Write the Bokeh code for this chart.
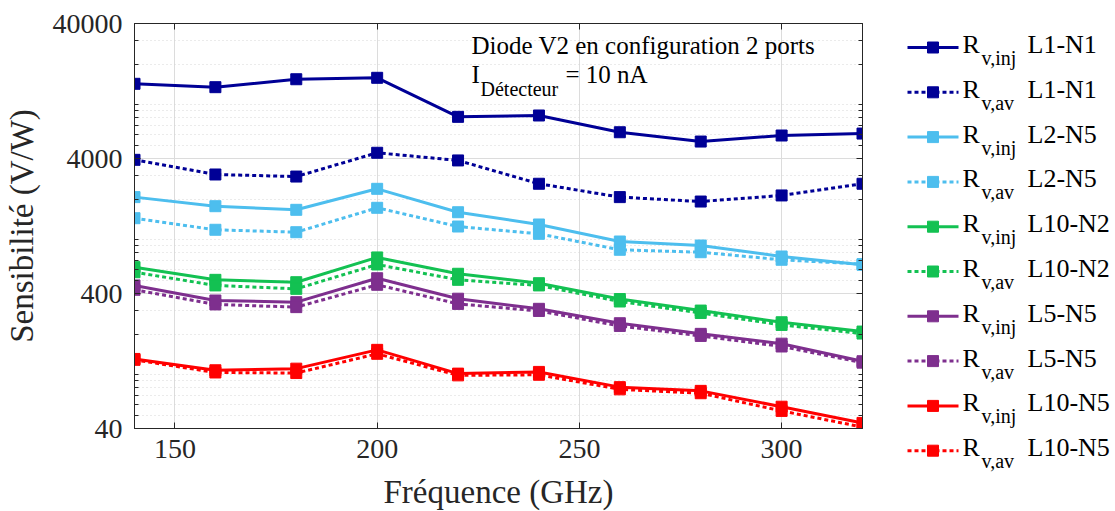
from bokeh.plotting import figure
from bokeh.models import (FixedTicker, LinearAxis, LogAxis, Label, ColumnDataSource,
                          PrintfTickFormatter, CustomJSTickFormatter)
from bokeh.layouts import row, column
from bokeh.embed import file_html
from bokeh.resources import INLINE
from bokeh.core.properties import value

# ---------------- data ----------------
freq = [140, 160, 180, 200, 220, 240, 260, 280, 300, 320]
l1n1_inj = [14300, 13500, 15460, 15840, 8140, 8330, 6260, 5340, 5920, 6120]
l1n1_av = [3910, 3045, 2940, 4410, 3870, 2600, 2070, 1920, 2130, 2600]
l2n5_inj = [2070, 1773, 1667, 2385, 1600, 1298, 971, 907, 752, 653]
l2n5_av = [1445, 1186, 1138, 1725, 1254, 1107, 843, 809, 711, 660]
l10n2_inj = [627, 505, 485, 740, 560, 477, 364, 299, 245, 209]
l10n2_av = [575, 459, 433, 656, 505, 459, 349, 287, 234, 202]
l5n5_inj = [459, 355, 345, 519, 366, 308, 241, 201, 170, 126]
l5n5_av = [426, 332, 317, 464, 335, 297, 230, 194, 162, 123]
l10n5_inj = [131, 108, 111, 153, 102, 105, 81, 76, 58, 44]
l10n5_av = [129, 104, 103, 143, 99, 100, 78, 73, 54, 41]

series_values = [l1n1_inj, l1n1_av, l2n5_inj, l2n5_av, l10n2_inj, l10n2_av,
                 l5n5_inj, l5n5_av, l10n5_inj, l10n5_av]
series_names = ["L1-N1", "L1-N1", "L2-N5", "L2-N5", "L10-N2", "L10-N2",
                "L5-N5", "L5-N5", "L10-N5", "L10-N5"]
series_kind = ["v,inj", "v,av"] * 5
series_colors = ["#000096", "#000096", "#4DBEEE", "#4DBEEE", "#13C152", "#13C152",
                 "#7E2F8E", "#7E2F8E", "#FF0000", "#FF0000"]

x_ticks = [150, 200, 250, 300]
y_ticks = [40, 400, 4000, 40000]
y_minor = [m * 10 ** k for k in range(1, 5) for m in range(1, 10)
           if 40 < m * 10 ** k < 40000 and m * 10 ** k not in y_ticks]
x_title = "Fréquence (GHz)"
y_title = "Sensibilité (V/W)"

FONT = "Liberation Serif"
AX = "#262626"
MAIN_W = 878
MAIN_H = 470         # main plot height; x title strip sits below it
TOTAL_W = 1115
TOTAL_H = 511

# ---------------- main plot ----------------
p = figure(width=MAIN_W, height=MAIN_H, x_range=(140, 320), y_range=(40, 40000),
           y_axis_type="log", output_backend="svg", toolbar_location=None,
           min_border_left=134, min_border_right=16, min_border_top=23,
           min_border_bottom=MAIN_H - 428, background_fill_color="white",
           border_fill_color="white", outline_line_color=AX)

for vals, color, kind in zip(series_values, series_colors, series_kind):
    dash = "solid" if kind == "v,inj" else "4 3"
    p.line(freq, vals, line_color=color, line_width=3, line_dash=dash)
    p.scatter(freq, vals, marker="square", size=11, fill_color=color,
              line_color=color)

xt = FixedTicker(ticks=x_ticks, minor_ticks=[])
yt = FixedTicker(ticks=y_ticks, minor_ticks=y_minor)

def style_axis(ax, labels=True):
    ax.axis_line_color = AX
    ax.major_tick_line_color = AX
    ax.minor_tick_line_color = AX
    ax.major_tick_in = 6
    ax.major_tick_out = 0
    ax.minor_tick_in = 4
    ax.minor_tick_out = 0
    if labels:
        ax.major_label_text_font = FONT
        ax.major_label_text_font_size = "28px"
        ax.major_label_text_color = AX
        ax.axis_label_text_font = FONT
        ax.axis_label_text_font_size = "33px"
        ax.axis_label_text_font_style = "normal"
        ax.axis_label_text_color = AX
    else:
        ax.formatter = CustomJSTickFormatter(code="return ''")
        ax.major_label_text_color = None
        ax.major_label_text_font_size = "8px"
        ax.major_label_standoff = 0

bx = p.xaxis[0]
ly = p.yaxis[0]
bx.ticker = xt
ly.ticker = yt
ly.formatter = PrintfTickFormatter(format="%d")
style_axis(bx)
style_axis(ly)
ly.axis_label = y_title
bx.major_label_standoff = 11
ly.major_label_standoff = 12
ly.axis_label_standoff = 10

top = LinearAxis(ticker=xt)
style_axis(top, labels=False)
p.add_layout(top, "above")
right = LogAxis(ticker=yt)
style_axis(right, labels=False)
p.add_layout(right, "right")

p.xgrid.ticker = xt
p.ygrid.ticker = yt
p.xgrid.grid_line_color = "#DCDCDC"
p.ygrid.grid_line_color = "#DCDCDC"
p.ygrid.minor_grid_line_color = "#D6D6D6"
p.ygrid.minor_grid_line_dash = "1 3"

# annotation text inside the plot
ann = [
    ("Diode V2 en configuration 2 ports", 337, 382.7, "25px"),
    ("I", 337, 354.3, "25px"),
    ("Détecteur", 346, 340, "20px"),
    ("= 10 nA", 431, 354.3, "25px"),
]
for t, x, y, fs in ann:
    p.add_layout(Label(x=x, y=y, x_units="screen", y_units="screen", text=t,
                       text_font=FONT, text_font_size=fs, text_color="black",
                       text_baseline="alphabetic"))

# ---------------- x axis title strip (below the main plot) ----------------
xs = figure(width=MAIN_W, height=TOTAL_H - MAIN_H, x_range=(0, MAIN_W),
            y_range=(TOTAL_H, MAIN_H), output_backend="svg", toolbar_location=None,
            min_border=0, min_border_top=0, min_border_bottom=0,
            min_border_left=0, min_border_right=0,
            x_axis_location=None, y_axis_location=None, outline_line_color=None,
            background_fill_color="white", border_fill_color="white")
xs.grid.visible = False
xs.text(x=[498], y=[491], text=[x_title], text_font=value(FONT),
        text_font_size="33px", text_align="center", text_baseline="alphabetic",
        text_color=AX)

# ---------------- legend panel ----------------
q = figure(width=TOTAL_W - MAIN_W, height=TOTAL_H, x_range=(MAIN_W, TOTAL_W),
           y_range=(TOTAL_H, 0),
           output_backend="svg", toolbar_location=None, min_border=0,
           min_border_top=0, min_border_bottom=0, min_border_left=0,
           min_border_right=0,
           x_axis_location=None, y_axis_location=None, outline_line_color=None,
           background_fill_color="white", border_fill_color="white")
q.grid.visible = False

row_y = [47 + 44.8 * i for i in range(len(series_names))]
for yv, color, kind in zip(row_y, series_colors, series_kind):
    dash = "solid" if kind == "v,inj" else "4 3"
    q.line([907, 958], [yv, yv], line_color=color, line_width=3, line_dash=dash)
    q.scatter([932.5], [yv], marker="square", size=11, fill_color=color,
              line_color=color)

src_r = ColumnDataSource(dict(x=[962] * 10, y=[v - 3 for v in row_y], t=["R"] * 10))
src_s = ColumnDataSource(dict(x=[981] * 10, y=[v + 10.5 for v in row_y], t=series_kind))
src_n = ColumnDataSource(dict(x=[1027] * 10, y=[v - 3 for v in row_y], t=series_names))
q.text(x="x", y="y", text="t", source=src_r, text_font=value(FONT),
       text_font_size="26px", text_baseline="alphabetic", text_color="black")
q.text(x="x", y="y", text="t", source=src_s, text_font=value(FONT),
       text_font_size="20px", text_baseline="alphabetic", text_color="black")
q.text(x="x", y="y", text="t", source=src_n, text_font=value(FONT),
       text_font_size="26px", text_baseline="alphabetic", text_color="black")

layout = row(column(p, column(xs)), column(q))
open("out.html", "w").write(file_html(layout, INLINE))
